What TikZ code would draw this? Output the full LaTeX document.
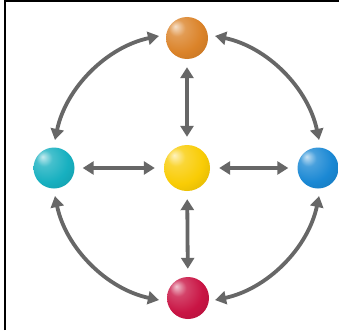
\documentclass[tikz,border=0pt]{standalone}
\usetikzlibrary{arrows.meta,calc}
\definecolor{arrgray}{HTML}{676767}
\definecolor{corange}{HTML}{DB8329}
\definecolor{ccyan}{HTML}{17B0C0}
\definecolor{cyellow}{HTML}{F9CC05}
\definecolor{cblue}{HTML}{1A88D4}
\definecolor{cred}{HTML}{C91444}
\newcommand{\mkball}[2]{%
  \pgfdeclareradialshading{#1}{\pgfpoint{-14bp}{14bp}}{%
    color(0bp)=(#2!25!white);
    color(10bp)=(#2!80!white);
    color(26bp)=(#2);
    color(46bp)=(#2!85!black);
    color(60bp)=(#2!70!black);
    color(70bp)=(#2!65!black)}}
\mkball{ballorange}{corange}
\mkball{ballcyan}{ccyan}
\mkball{ballyellow}{cyellow}
\mkball{ballblue}{cblue}
\mkball{ballred}{cred}
\tikzset{
  sphere/.style={circle, minimum size=#1, inner sep=0pt},
  arr/.style={draw=arrgray, line width=3.8pt, {Triangle[length=11pt,width=13pt]}-{Triangle[length=11pt,width=13pt]}},
}
\begin{document}
\begin{tikzpicture}[x=1pt,y=1pt]
\useasboundingbox (0,0) rectangle (339,330);
\fill[white] (0,0) rectangle (339,330);
% frame
\coordinate (fl1) at (5,0);
\coordinate (fl2) at (5,330);
\coordinate (ft1) at (4,329);
\coordinate (ft2) at (339,329);
\draw[line width=2pt] (fl1) -- (fl2);
\draw[line width=1.5pt] (ft1) -- (ft2);
% spheres
\node[sphere=46pt, shading=ballyellow] (c) at (187,162) {};
\node[sphere=42pt, shading=ballorange] (t) at (187,292) {};
\node[sphere=41pt, shading=ballcyan] (l) at (54,162) {};
\node[sphere=41pt, shading=ballblue] (r) at (318,162) {};
\node[sphere=42pt, shading=ballred] (b) at (188,32) {};
% straight arrows
\draw[arr, shorten <=8pt, shorten >=8pt] (t) -- (c);
\draw[arr, shorten <=8pt, shorten >=8pt] (c) -- (b);
\draw[arr, shorten <=8pt, shorten >=9pt] (l) -- (c);
\draw[arr, shorten <=9pt, shorten >=9pt] (c) -- (r);
% arcs
\coordinate (a1) at ($(c)+(102:135)$);
\coordinate (a2) at ($(c)+(78:135)$);
\coordinate (a3) at ($(c)+(-12:135)$);
\coordinate (a4) at ($(c)+(192:135)$);
\draw[arr] (a1) arc[start angle=102, end angle=168, radius=135];
\draw[arr] (a2) arc[start angle=78, end angle=12, radius=135];
\draw[arr] (a3) arc[start angle=-12, end angle=-78, radius=135];
\draw[arr] (a4) arc[start angle=192, end angle=258, radius=135];
\end{tikzpicture}
\end{document}
